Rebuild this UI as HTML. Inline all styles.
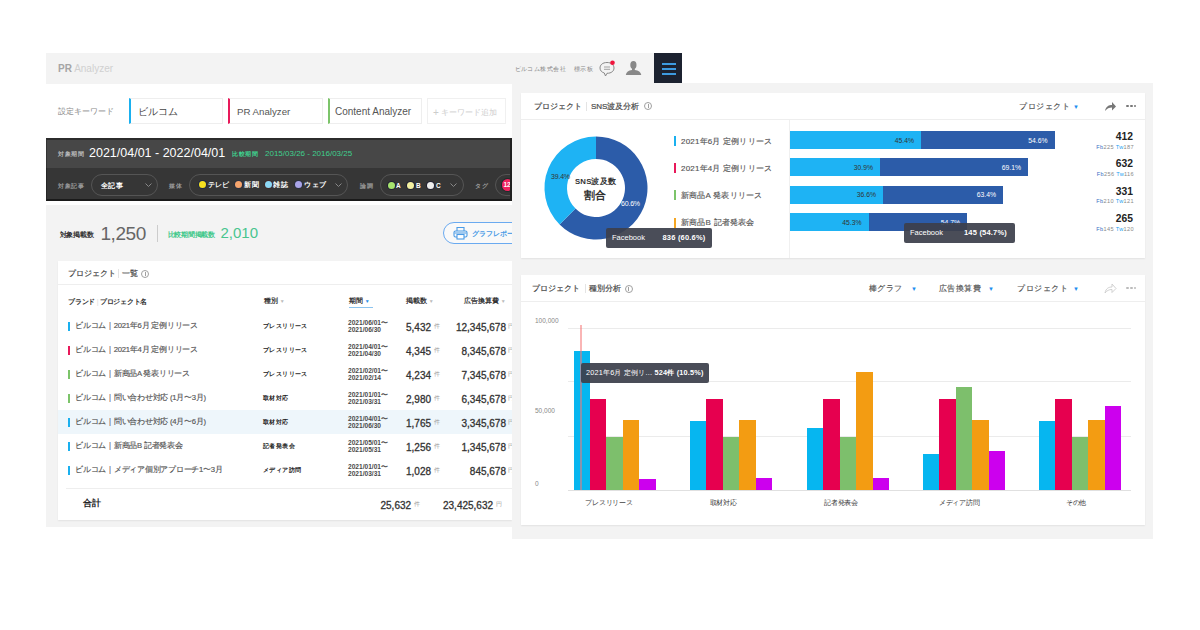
<!DOCTYPE html>
<html><head><meta charset="utf-8">
<style>
*{margin:0;padding:0;box-sizing:border-box}
html,body{width:1200px;height:630px;overflow:hidden;background:#fff;font-family:"Liberation Sans",sans-serif;color:#333}
.a{position:absolute}
.t{position:absolute;white-space:nowrap;line-height:1}
</style></head><body>
<!-- header -->
<div class="a" style="left:46px;top:53px;width:608px;height:31px;background:#f3f3f3"></div>
<div class="a" style="left:654px;top:53px;width:28px;height:30px;background:#1c2230"></div>
<div class="a" style="left:662px;top:63px;width:14px;height:2px;background:#3d9be0"></div>
<div class="a" style="left:662px;top:68px;width:14px;height:2px;background:#3d9be0"></div>
<div class="a" style="left:662px;top:73px;width:14px;height:2px;background:#3d9be0"></div>
<div class="t" style="left:58px;top:64px;font-size:10px;color:#d0d0d0"><b style="color:#a5a5a5">PR</b> Analyzer</div>
<div class="t" style="left:514.5px;top:66px;font-size:6px;color:#888;letter-spacing:.45px">ビルコム株式会社</div>
<div class="t" style="left:574px;top:66px;font-size:6px;color:#888;letter-spacing:.4px">標示板</div>


<svg class="a" style="left:598px;top:59px" width="20" height="19"><path d="M9 3.5 C4.5 3.5 2 6 2 9 C2 11.5 3.8 13.3 6.3 14 L7.5 17 L9 14.3 C13.5 14.3 16 12 16 9 C16 6 13.5 3.5 9 3.5Z" fill="none" stroke="#888" stroke-width="1"/><path d="M6 8 H12 M6 10.3 H12" stroke="#999" stroke-width=".9"/><circle cx="14.5" cy="3.8" r="2.3" fill="#f0143c"/></svg>
<svg class="a" style="left:624px;top:59px" width="18" height="18"><ellipse cx="9.4" cy="6" rx="3.1" ry="3.9" fill="#888"/><path d="M8 9 H10.8 V11 C14.5 11.6 16.8 13 17.3 16 H1.8 C2.3 13 4.5 11.6 8 11Z" fill="#888"/></svg>
<!-- left white section -->
<div class="a" style="left:46px;top:84px;width:466px;height:54px;background:#fff"></div>
<!-- dark bar -->
<div class="a" style="left:46px;top:138px;width:466px;height:30px;background:#474747;border-top:2px solid #2c2c2c;border-left:1px solid #333"></div>
<div class="a" style="left:46px;top:168px;width:466px;height:33px;background:#363636;border-bottom:2px solid #1a1a1a;border-left:1px solid #262626"></div>
<!-- left gray -->
<div class="a" style="left:46px;top:205px;width:466px;height:322px;background:#f3f3f3"></div>

<!-- keyword row -->
<div class="t" style="left:58px;top:108px;font-size:7.5px;color:#888;letter-spacing:0">設定キーワード</div>
<div class="a" style="left:129px;top:98px;width:94px;height:26px;border:1px solid #eee;border-left:2px solid #1ab0ef"></div>
<div class="t" style="left:138px;top:107px;font-size:10px;color:#444">ビルコム</div>
<div class="a" style="left:228px;top:98px;width:95px;height:26px;border:1px solid #eee;border-left:2px solid #e8195a"></div>
<div class="t" style="left:237px;top:107px;font-size:9.7px;color:#555">PR Analyzer</div>
<div class="a" style="left:328px;top:98px;width:94px;height:26px;border:1px solid #eee;border-left:2px solid #7cc46a"></div>
<div class="t" style="left:335px;top:107px;font-size:10px;color:#555">Content Analyzer</div>
<div class="a" style="left:427px;top:98px;width:79px;height:26px;border:1px solid #f0f0f0"></div>
<div class="t" style="left:433px;top:107.5px;font-size:8px;color:#ccc"><span style="font-size:10px;vertical-align:-1px">+</span> キーワード追加</div>

<!-- dark bar content -->
<div class="t" style="left:58px;top:150.5px;font-size:6px;color:#bbb;font-weight:bold;letter-spacing:.5px">対象期間</div>
<div class="t" style="left:89px;top:147px;font-size:12.5px;color:#fff">2021/04/01 - 2022/04/01</div>
<div class="t" style="left:232px;top:150.5px;font-size:6px;color:#3fcf8e;font-weight:bold;letter-spacing:.5px">比較期間</div>
<div class="t" style="left:265px;top:149.7px;font-size:8px;color:#3fcf8e">2015/03/26 - 2016/03/25</div>

<div class="t" style="left:58px;top:182.5px;font-size:6px;color:#999;font-weight:bold;letter-spacing:.5px">対象記事</div>
<div class="a" style="left:91px;top:174px;width:67px;height:22px;border:1px solid #555;border-radius:11px"></div>
<div class="t" style="left:101px;top:181.5px;font-size:7px;color:#fff;font-weight:bold;letter-spacing:.3px">全記事</div>
<div class="t" style="left:169px;top:182.5px;font-size:6px;color:#999;font-weight:bold;letter-spacing:.5px">媒体</div>
<div class="a" style="left:189px;top:174px;width:159px;height:22px;border:1px solid #555;border-radius:11px"></div>
<div class="t" style="left:360px;top:182.5px;font-size:6px;color:#999;font-weight:bold;letter-spacing:.5px">論調</div>
<div class="a" style="left:380px;top:174px;width:84px;height:22px;border:1px solid #555;border-radius:11px"></div>
<div class="t" style="left:475px;top:182.5px;font-size:6px;color:#999;font-weight:bold;letter-spacing:.5px">タグ</div>
<div class="a" style="left:495px;top:174px;width:40px;height:22px;border:1px solid #555;border-radius:11px"></div>


<!-- pill contents -->
<svg class="a" style="left:144px;top:181px" width="9" height="8"><path d="M1.5 2.5 L4.5 5.5 L7.5 2.5" fill="none" stroke="#888" stroke-width="1"/></svg>
<div class="a" style="left:199px;top:181px;width:7px;height:7px;border-radius:50%;background:#f5e020;box-shadow:0 0 0 1px #1e2a44"></div>
<div class="t" style="left:208px;top:182px;font-size:6.5px;color:#fff;font-weight:bold;letter-spacing:.2px">テレビ</div>
<div class="a" style="left:235px;top:181px;width:7px;height:7px;border-radius:50%;background:#f5a46c;box-shadow:0 0 0 1px #2a3040"></div>
<div class="t" style="left:244px;top:182px;font-size:6.5px;color:#fff;font-weight:bold;letter-spacing:.8px">新聞</div>
<div class="a" style="left:265px;top:181px;width:7px;height:7px;border-radius:50%;background:#8cd8f5;box-shadow:0 0 0 1px #402a2a"></div>
<div class="t" style="left:273px;top:182px;font-size:6.5px;color:#fff;font-weight:bold;letter-spacing:.8px">雑誌</div>
<div class="a" style="left:295px;top:181px;width:7px;height:7px;border-radius:50%;background:#a9a4e8;box-shadow:0 0 0 1px #2a3040"></div>
<div class="t" style="left:304px;top:182px;font-size:6.5px;color:#fff;font-weight:bold;letter-spacing:.6px">ウェブ</div>
<svg class="a" style="left:334px;top:181px" width="9" height="8"><path d="M1.5 2.5 L4.5 5.5 L7.5 2.5" fill="none" stroke="#888" stroke-width="1"/></svg>
<div class="a" style="left:388px;top:181.5px;width:7px;height:7px;border-radius:50%;background:#a6e36e;box-shadow:0 0 0 1px #223"></div>
<div class="t" style="left:396px;top:182.5px;font-size:6.5px;color:#fff;font-weight:bold">A</div>
<div class="a" style="left:407px;top:181.5px;width:7px;height:7px;border-radius:50%;background:#f3f0a0;box-shadow:0 0 0 1px #223"></div>
<div class="t" style="left:416px;top:182.5px;font-size:6.5px;color:#fff;font-weight:bold">B</div>
<div class="a" style="left:426.5px;top:181.5px;width:7px;height:7px;border-radius:50%;background:#eee;box-shadow:0 0 0 1px #223"></div>
<div class="t" style="left:436px;top:182.5px;font-size:6.5px;color:#fff;font-weight:bold">C</div>
<svg class="a" style="left:449px;top:181px" width="9" height="8"><path d="M1.5 2.5 L4.5 5.5 L7.5 2.5" fill="none" stroke="#888" stroke-width="1"/></svg>
<div class="a" style="left:501.5px;top:179.2px;width:11.5px;height:11.5px;border-radius:50%;background:#f0245e;box-shadow:0 0 0 1px #1d2b2b"></div>
<div class="t" style="left:503.5px;top:182px;font-size:6.5px;color:#fff;font-weight:bold">12</div>
<div class="a" style="left:510px;top:138px;width:2px;height:63px;background:#202020"></div>
<!-- cover right overflow -->

<!-- stats -->
<div class="t" style="left:59.5px;top:230.8px;font-size:7px;color:#333;font-weight:bold;letter-spacing:-.2px">対象掲載数</div>
<div class="t" style="left:100.5px;top:223.9px;font-size:19px;color:#666;letter-spacing:-.45px">1,250</div>
<div class="a" style="left:156.5px;top:225px;width:1px;height:17px;background:#ccc"></div>
<div class="t" style="left:167.8px;top:230.8px;font-size:7px;color:#3fc88a;font-weight:bold;letter-spacing:-.3px">比較期間掲載数</div>
<div class="t" style="left:220.5px;top:225.2px;font-size:15px;color:#48c58e;letter-spacing:0">2,010</div>
<div class="a" style="left:443px;top:222px;width:90px;height:22px;border:1.2px solid #6aaaf0;border-radius:11px;background:#f9f9f9"></div>
<svg class="a" style="left:453px;top:226px" width="15" height="14"><path d="M4 5 V1.5 H11 V5" fill="none" stroke="#4a9be6" stroke-width="1.1"/><rect x="1" y="5" width="13" height="6" rx="1.5" fill="none" stroke="#4a9be6" stroke-width="1.1"/><rect x="4" y="8.5" width="7" height="4.5" fill="#fff" stroke="#4a9be6" stroke-width="1.1"/><path d="M1.5 7 H13.5" stroke="#4a9be6" stroke-width="1"/></svg>
<div class="t" style="left:472px;top:230px;font-size:7px;color:#4a9be6;font-weight:bold;letter-spacing:-.1px">グラフレポート</div>

<!-- table card -->
<div class="a" style="left:58px;top:261px;width:454px;height:259px;background:#fff;box-shadow:0 1px 1.5px rgba(0,0,0,.07)"></div>
<div class="a" style="left:58px;top:284px;width:454px;height:1px;background:#eee"></div>

<div class="t" style="left:68px;top:269.7px;font-size:8px;color:#4a4a4a;font-weight:normal;-webkit-text-stroke:.2px #4a4a4a">プロジェクト</div><div class="a" style="left:117.5px;top:269.2px;width:1px;height:9px;background:#e4e4e4"></div><div class="t" style="left:121.5px;top:269.7px;font-size:8px;color:#4a4a4a;font-weight:normal;-webkit-text-stroke:.2px #4a4a4a">一覧</div><div class="a" style="left:141px;top:269.7px;width:8px;height:8px;border-radius:50%;border:1.4px solid #a0a0a0"></div><div class="a" style="left:144.5px;top:271.8px;width:1.1px;height:4px;background:#a0a0a0"></div>

<div class="t" style="left:68px;top:298px;font-size:7px;color:#333;font-weight:bold;letter-spacing:-.25px">ブランド<span style="color:#ddd;font-weight:normal"> | </span>プロジェクト名</div>
<div class="t" style="left:264px;top:298px;font-size:6.5px;color:#333;font-weight:bold">種別 <span style="color:#bbb;font-size:5px">▼</span></div>
<div class="t" style="left:349px;top:298px;font-size:6.5px;color:#333;font-weight:bold">期間 <span style="color:#2a8ee8;font-size:5px">▼</span></div>
<div class="a" style="left:349px;top:307px;width:24px;height:1px;background:#8cc4ef"></div>
<div class="t" style="left:406px;top:298px;font-size:6.5px;color:#333;font-weight:bold">掲載数 <span style="color:#bbb;font-size:5px">▼</span></div>
<div class="t" style="left:464px;top:298px;font-size:6.5px;color:#333;font-weight:bold">広告換算費 <span style="color:#bbb;font-size:5px">▼</span></div>
<div class="a" style="left:58px;top:409.5px;width:454px;height:24px;background:#eef6fb"></div>
<div class="a" style="left:68px;top:322px;width:2px;height:9px;background:#1ab0ef"></div>
<div class="t" style="left:75px;top:322px;font-size:7.7px;color:#555;letter-spacing:-.25px;-webkit-text-stroke:.15px #555">ビルコム｜2021年6月 定例リリース</div>
<div class="t" style="left:263px;top:323px;font-size:6.2px;color:#222;font-weight:bold;letter-spacing:.4px">プレスリリース</div>
<div class="t" style="left:348px;top:320px;font-size:6.6px;color:#4a4a4a;font-weight:bold;line-height:6.9px">2021/06/01〜<br>2021/06/30</div>
<div class="t" style="left:406px;top:322.6px;font-size:10px;color:#333;-webkit-text-stroke:.3px #333">5,432</div>
<div class="t" style="left:434px;top:323px;font-size:6px;color:#999">件</div>
<div class="t" style="left:400px;width:106px;text-align:right;top:322.6px;font-size:10px;color:#333;-webkit-text-stroke:.3px #333">12,345,678</div>
<div class="t" style="left:508px;top:323px;font-size:6px;color:#999">円</div>
<div class="a" style="left:68px;top:346px;width:2px;height:9px;background:#e8195a"></div>
<div class="t" style="left:75px;top:346px;font-size:7.7px;color:#555;letter-spacing:-.25px;-webkit-text-stroke:.15px #555">ビルコム｜2021年4月 定例リリース</div>
<div class="t" style="left:263px;top:347px;font-size:6.2px;color:#222;font-weight:bold;letter-spacing:.4px">プレスリリース</div>
<div class="t" style="left:348px;top:344px;font-size:6.6px;color:#4a4a4a;font-weight:bold;line-height:6.9px">2021/04/01〜<br>2021/04/30</div>
<div class="t" style="left:406px;top:346.6px;font-size:10px;color:#333;-webkit-text-stroke:.3px #333">4,345</div>
<div class="t" style="left:434px;top:347px;font-size:6px;color:#999">件</div>
<div class="t" style="left:400px;width:106px;text-align:right;top:346.6px;font-size:10px;color:#333;-webkit-text-stroke:.3px #333">8,345,678</div>
<div class="t" style="left:508px;top:347px;font-size:6px;color:#999">円</div>
<div class="a" style="left:68px;top:370px;width:2px;height:9px;background:#7cc46a"></div>
<div class="t" style="left:75px;top:370px;font-size:7.7px;color:#555;letter-spacing:-.25px;-webkit-text-stroke:.15px #555">ビルコム｜新商品A 発表リリース</div>
<div class="t" style="left:263px;top:371px;font-size:6.2px;color:#222;font-weight:bold;letter-spacing:.4px">プレスリリース</div>
<div class="t" style="left:348px;top:368px;font-size:6.6px;color:#4a4a4a;font-weight:bold;line-height:6.9px">2021/02/01〜<br>2021/02/14</div>
<div class="t" style="left:406px;top:370.6px;font-size:10px;color:#333;-webkit-text-stroke:.3px #333">4,234</div>
<div class="t" style="left:434px;top:371px;font-size:6px;color:#999">件</div>
<div class="t" style="left:400px;width:106px;text-align:right;top:370.6px;font-size:10px;color:#333;-webkit-text-stroke:.3px #333">7,345,678</div>
<div class="t" style="left:508px;top:371px;font-size:6px;color:#999">円</div>
<div class="a" style="left:68px;top:394px;width:2px;height:9px;background:#7cc46a"></div>
<div class="t" style="left:75px;top:394px;font-size:7.7px;color:#555;letter-spacing:-.25px;-webkit-text-stroke:.15px #555">ビルコム｜問い合わせ対応 (1月〜3月)</div>
<div class="t" style="left:263px;top:395px;font-size:6.2px;color:#222;font-weight:bold;letter-spacing:.4px">取材対応</div>
<div class="t" style="left:348px;top:392px;font-size:6.6px;color:#4a4a4a;font-weight:bold;line-height:6.9px">2021/01/01〜<br>2021/03/31</div>
<div class="t" style="left:406px;top:394.6px;font-size:10px;color:#333;-webkit-text-stroke:.3px #333">2,980</div>
<div class="t" style="left:434px;top:395px;font-size:6px;color:#999">件</div>
<div class="t" style="left:400px;width:106px;text-align:right;top:394.6px;font-size:10px;color:#333;-webkit-text-stroke:.3px #333">6,345,678</div>
<div class="t" style="left:508px;top:395px;font-size:6px;color:#999">円</div>
<div class="a" style="left:68px;top:418px;width:2px;height:9px;background:#1ab0ef"></div>
<div class="t" style="left:75px;top:418px;font-size:7.7px;color:#555;letter-spacing:-.25px;-webkit-text-stroke:.15px #555">ビルコム｜問い合わせ対応 (4月〜6月)</div>
<div class="t" style="left:263px;top:419px;font-size:6.2px;color:#222;font-weight:bold;letter-spacing:.4px">取材対応</div>
<div class="t" style="left:348px;top:416px;font-size:6.6px;color:#4a4a4a;font-weight:bold;line-height:6.9px">2021/04/01〜<br>2021/06/30</div>
<div class="t" style="left:406px;top:418.6px;font-size:10px;color:#333;-webkit-text-stroke:.3px #333">1,765</div>
<div class="t" style="left:434px;top:419px;font-size:6px;color:#999">件</div>
<div class="t" style="left:400px;width:106px;text-align:right;top:418.6px;font-size:10px;color:#333;-webkit-text-stroke:.3px #333">3,345,678</div>
<div class="t" style="left:508px;top:419px;font-size:6px;color:#999">円</div>
<div class="a" style="left:68px;top:442px;width:2px;height:9px;background:#1ab0ef"></div>
<div class="t" style="left:75px;top:442px;font-size:7.7px;color:#555;letter-spacing:-.25px;-webkit-text-stroke:.15px #555">ビルコム｜新商品B 記者発表会</div>
<div class="t" style="left:263px;top:443px;font-size:6.2px;color:#222;font-weight:bold;letter-spacing:.4px">記者発表会</div>
<div class="t" style="left:348px;top:440px;font-size:6.6px;color:#4a4a4a;font-weight:bold;line-height:6.9px">2021/05/01〜<br>2021/05/31</div>
<div class="t" style="left:406px;top:442.6px;font-size:10px;color:#333;-webkit-text-stroke:.3px #333">1,256</div>
<div class="t" style="left:434px;top:443px;font-size:6px;color:#999">件</div>
<div class="t" style="left:400px;width:106px;text-align:right;top:442.6px;font-size:10px;color:#333;-webkit-text-stroke:.3px #333">1,345,678</div>
<div class="t" style="left:508px;top:443px;font-size:6px;color:#999">円</div>
<div class="a" style="left:68px;top:466px;width:2px;height:9px;background:#1ab0ef"></div>
<div class="t" style="left:75px;top:466px;font-size:7.7px;color:#555;letter-spacing:-.25px;-webkit-text-stroke:.15px #555">ビルコム｜メディア個別アプローチ1〜3月</div>
<div class="t" style="left:263px;top:467px;font-size:6.2px;color:#222;font-weight:bold;letter-spacing:.4px">メディア訪問</div>
<div class="t" style="left:348px;top:464px;font-size:6.6px;color:#4a4a4a;font-weight:bold;line-height:6.9px">2021/01/01〜<br>2021/03/31</div>
<div class="t" style="left:406px;top:466.6px;font-size:10px;color:#333;-webkit-text-stroke:.3px #333">1,028</div>
<div class="t" style="left:434px;top:467px;font-size:6px;color:#999">件</div>
<div class="t" style="left:400px;width:106px;text-align:right;top:466.6px;font-size:10px;color:#333;-webkit-text-stroke:.3px #333">845,678</div>
<div class="t" style="left:508px;top:467px;font-size:6px;color:#999">円</div>
<div class="a" style="left:66px;top:488px;width:446px;height:1px;background:#eee"></div>
<div class="t" style="left:83px;top:499px;font-size:9px;color:#222;font-weight:bold">合計</div>
<div class="t" style="left:380.5px;top:501.0px;font-size:10px;color:#333;-webkit-text-stroke:.3px #333">25,632</div>
<div class="t" style="left:413.5px;top:501px;font-size:6px;color:#999">件</div>
<div class="t" style="left:443px;top:501.0px;font-size:10px;color:#333;-webkit-text-stroke:.3px #333">23,425,632</div>
<div class="t" style="left:495.5px;top:501px;font-size:6px;color:#999">円</div>

<!-- right container -->
<div class="a" style="left:512px;top:83px;width:641px;height:456px;background:#f3f3f3"></div>
<!-- right cards -->
<div class="a" style="left:521px;top:93px;width:624px;height:165px;background:#fff;box-shadow:0 1px 1.5px rgba(0,0,0,.07)"></div>
<div class="a" style="left:521px;top:119px;width:624px;height:1px;background:#eee"></div>
<div class="a" style="left:521px;top:275px;width:624px;height:250px;background:#fff;box-shadow:0 1px 1.5px rgba(0,0,0,.07)"></div>
<div class="a" style="left:521px;top:301px;width:624px;height:1px;background:#eee"></div>

<!-- card1 content -->
<div class="t" style="left:534px;top:102.8px;font-size:8px;color:#4a4a4a;font-weight:normal;-webkit-text-stroke:.2px #4a4a4a">プロジェクト</div><div class="a" style="left:586px;top:101.5px;width:1px;height:9px;background:#e4e4e4"></div><div class="t" style="left:591px;top:102.8px;font-size:8px;color:#4a4a4a;font-weight:normal;-webkit-text-stroke:.2px #4a4a4a">SNS波及分析</div><div class="a" style="left:644px;top:102.0px;width:8px;height:8px;border-radius:50%;border:1.4px solid #a0a0a0"></div><div class="a" style="left:647.5px;top:104.1px;width:1.1px;height:4px;background:#a0a0a0"></div>

<div class="t" style="left:1019px;top:103px;font-size:7.6px;color:#555;letter-spacing:.5px;-webkit-text-stroke:.15px #555">プロジェクト</div>
<div class="t" style="left:1073px;top:104px;font-size:6px;color:#1a8ef0">▼</div>
<svg class="a" style="left:1103.5px;top:100.5px" width="13" height="11"><path d="M1 10 C2 5 5 4 8 4 L8 1 L12 5.5 L8 9.5 L8 6.5 C5 6.5 3 7.5 1 10Z" fill="#777"/></svg>
<div class="a" style="left:1126.4px;top:104.7px;width:2.6px;height:2.5px;background:#777;border-radius:50%"></div>
<div class="a" style="left:1130.1px;top:104.7px;width:2.6px;height:2.5px;background:#777;border-radius:50%"></div>
<div class="a" style="left:1133.9px;top:104.7px;width:2.6px;height:2.5px;background:#777;border-radius:50%"></div>
<svg class="a" style="left:0;top:0" width="1200" height="630"><path d="M596.00 136.50 A51.5 51.5 0 1 1 559.58 224.42 L575.49 208.51 A29 29 0 1 0 596.00 159.00 Z" fill="#2c5ca9"/><path d="M559.58 224.42 A51.5 51.5 0 0 1 596.00 136.50 L596.00 159.00 A29 29 0 0 0 575.49 208.51 Z" fill="#1eb3f4"/></svg>
<div class="t" style="left:551px;top:172.5px;font-size:7px;color:#333;letter-spacing:-.2px">39.4%</div>
<div class="t" style="left:621px;top:200px;font-size:7px;color:#fff;letter-spacing:-.2px">60.6%</div>
<div class="t" style="left:575px;top:177.5px;font-size:7.8px;color:#333;font-weight:bold;letter-spacing:.15px">SNS波及数</div>
<div class="t" style="left:584px;top:190px;font-size:11px;color:#333;font-weight:bold">割合</div>
<div class="a" style="left:789px;top:120px;width:1px;height:138px;background:#f0f0f0"></div>
<div class="a" style="left:674px;top:136.0px;width:2px;height:10px;background:#1ab0ef"></div>
<div class="t" style="left:681px;top:137.8px;font-size:8px;color:#555;letter-spacing:.2px;-webkit-text-stroke:.15px #555">2021年6月 定例リリース</div>
<div class="a" style="left:790px;top:131px;width:131.0px;height:18px;background:#1eb3f4"></div>
<div class="a" style="left:921px;top:131px;width:133.5px;height:18px;background:#2c5ca9"></div>
<div class="t" style="left:860.0px;width:54px;text-align:right;top:137.8px;font-size:6.8px;color:#333">45.4%</div>
<div class="t" style="left:993.5px;width:54px;text-align:right;top:137.8px;font-size:6.8px;color:#fff">54.6%</div>
<div class="t" style="left:1079px;width:54px;text-align:right;top:132.3px;font-size:10.3px;color:#222;font-weight:bold">412</div>
<div class="t" style="left:1080px;width:54px;text-align:right;top:144.5px;font-size:5.6px;color:#888;letter-spacing:.35px"><span style="color:#3b6fc4">Fb</span>225 <span style="color:#1da1f2">Tw</span>187</div>
<div class="a" style="left:674px;top:163.2px;width:2px;height:10px;background:#e8195a"></div>
<div class="t" style="left:681px;top:165.0px;font-size:8px;color:#555;letter-spacing:.2px;-webkit-text-stroke:.15px #555">2021年4月 定例リリース</div>
<div class="a" style="left:790px;top:158px;width:90.0px;height:18px;background:#1eb3f4"></div>
<div class="a" style="left:880px;top:158px;width:148.0px;height:18px;background:#2c5ca9"></div>
<div class="t" style="left:819.0px;width:54px;text-align:right;top:164.8px;font-size:6.8px;color:#333">30.9%</div>
<div class="t" style="left:967.0px;width:54px;text-align:right;top:164.8px;font-size:6.8px;color:#fff">69.1%</div>
<div class="t" style="left:1079px;width:54px;text-align:right;top:159.3px;font-size:10.3px;color:#222;font-weight:bold">632</div>
<div class="t" style="left:1080px;width:54px;text-align:right;top:171.5px;font-size:5.6px;color:#888;letter-spacing:.35px"><span style="color:#3b6fc4">Fb</span>256 <span style="color:#1da1f2">Tw</span>116</div>
<div class="a" style="left:674px;top:190.4px;width:2px;height:10px;background:#7cc46a"></div>
<div class="t" style="left:681px;top:192.2px;font-size:8px;color:#555;letter-spacing:.2px;-webkit-text-stroke:.15px #555">新商品A 発表リリース</div>
<div class="a" style="left:790px;top:185.5px;width:93.0px;height:18px;background:#1eb3f4"></div>
<div class="a" style="left:883px;top:185.5px;width:120.0px;height:18px;background:#2c5ca9"></div>
<div class="t" style="left:822.0px;width:54px;text-align:right;top:192.3px;font-size:6.8px;color:#333">36.6%</div>
<div class="t" style="left:942.0px;width:54px;text-align:right;top:192.3px;font-size:6.8px;color:#fff">63.4%</div>
<div class="t" style="left:1079px;width:54px;text-align:right;top:186.8px;font-size:10.3px;color:#222;font-weight:bold">331</div>
<div class="t" style="left:1080px;width:54px;text-align:right;top:199.0px;font-size:5.6px;color:#888;letter-spacing:.35px"><span style="color:#3b6fc4">Fb</span>210 <span style="color:#1da1f2">Tw</span>121</div>
<div class="a" style="left:674px;top:217.6px;width:2px;height:10px;background:#f5a623"></div>
<div class="t" style="left:681px;top:219.4px;font-size:8px;color:#555;letter-spacing:.2px;-webkit-text-stroke:.15px #555">新商品B 記者発表会</div>
<div class="a" style="left:790px;top:213px;width:78.5px;height:18px;background:#1eb3f4"></div>
<div class="a" style="left:868.5px;top:213px;width:98.5px;height:18px;background:#2c5ca9"></div>
<div class="t" style="left:807.5px;width:54px;text-align:right;top:219.8px;font-size:6.8px;color:#333">45.3%</div>
<div class="t" style="left:906.0px;width:54px;text-align:right;top:219.8px;font-size:6.8px;color:#fff">54.7%</div>
<div class="t" style="left:1079px;width:54px;text-align:right;top:214.3px;font-size:10.3px;color:#222;font-weight:bold">265</div>
<div class="t" style="left:1080px;width:54px;text-align:right;top:226.5px;font-size:5.6px;color:#888;letter-spacing:.35px"><span style="color:#3b6fc4">Fb</span>145 <span style="color:#1da1f2">Tw</span>120</div>
<div class="a" style="left:606px;top:228px;width:106px;height:20px;background:rgba(60,64,75,.93);border-radius:2px"></div>
<div class="t" style="left:612px;top:234px;font-size:7.5px;color:#fff">Facebook</div>
<div class="t" style="left:662.5px;top:234px;font-size:7.5px;color:#fff;font-weight:bold;letter-spacing:.2px">836 (60.6%)</div>
<div class="a" style="left:904px;top:223px;width:111px;height:20px;background:rgba(60,64,75,.93);border-radius:2px"></div>
<div class="t" style="left:910px;top:229px;font-size:7.5px;color:#fff">Facebook</div>
<div class="t" style="left:964px;top:229px;font-size:7.5px;color:#fff;font-weight:bold;letter-spacing:.2px">145 (54.7%)</div>

<!-- card2 content -->
<div class="t" style="left:532px;top:284.7px;font-size:8px;color:#4a4a4a;font-weight:normal;-webkit-text-stroke:.2px #4a4a4a">プロジェクト</div><div class="a" style="left:585px;top:284.2px;width:1px;height:9px;background:#e4e4e4"></div><div class="t" style="left:589.3px;top:284.7px;font-size:8px;color:#4a4a4a;font-weight:normal;-webkit-text-stroke:.2px #4a4a4a">種別分析</div><div class="a" style="left:624.5px;top:284.7px;width:8px;height:8px;border-radius:50%;border:1.4px solid #a0a0a0"></div><div class="a" style="left:628.0px;top:286.8px;width:1.1px;height:4px;background:#a0a0a0"></div>

<div class="t" style="left:869px;top:285px;font-size:7.6px;color:#555;letter-spacing:.4px;-webkit-text-stroke:.15px #555">棒グラフ</div>
<div class="t" style="left:911px;top:286px;font-size:6px;color:#1a8ef0">▼</div>
<div class="t" style="left:939px;top:285px;font-size:7.6px;color:#555;letter-spacing:.4px;-webkit-text-stroke:.15px #555">広告換算費</div>
<div class="t" style="left:988px;top:286px;font-size:6px;color:#1a8ef0">▼</div>
<div class="t" style="left:1017px;top:285px;font-size:7.6px;color:#555;letter-spacing:.6px;-webkit-text-stroke:.15px #555">プロジェクト</div>
<div class="t" style="left:1073px;top:286px;font-size:6px;color:#1a8ef0">▼</div>
<svg class="a" style="left:1103.5px;top:282.5px" width="13" height="11"><path d="M1 10 C2 5 5 4 8 4 L8 1 L12 5.5 L8 9.5 L8 6.5 C5 6.5 3 7.5 1 10Z" fill="none" stroke="#ccc" stroke-width=".9"/></svg>
<div class="a" style="left:1126.4px;top:286.7px;width:2.6px;height:2.5px;background:#bbb;border-radius:50%"></div>
<div class="a" style="left:1130.1px;top:286.7px;width:2.6px;height:2.5px;background:#bbb;border-radius:50%"></div>
<div class="a" style="left:1133.9px;top:286.7px;width:2.6px;height:2.5px;background:#bbb;border-radius:50%"></div>
<div class="t" style="left:535px;top:318px;font-size:6.5px;color:#888">100,000</div>
<div class="t" style="left:535px;top:407.5px;font-size:6.5px;color:#888">50,000</div>
<div class="t" style="left:535px;top:481px;font-size:6.5px;color:#888">0</div>
<div class="a" style="left:568px;top:328px;width:563px;height:1px;background:#ebebeb"></div>
<div class="a" style="left:568px;top:381px;width:563px;height:1px;background:#ebebeb"></div>
<div class="a" style="left:568px;top:436px;width:563px;height:1px;background:#ebebeb"></div>
<div class="a" style="left:568px;top:490px;width:563px;height:1px;background:#e0e0e0"></div>
<div class="a" style="left:573.6px;top:351.4px;width:16.4px;height:138.6px;background:#06b6f0"></div>
<div class="a" style="left:590.0px;top:398.6px;width:16.4px;height:91.4px;background:#e6004f"></div>
<div class="a" style="left:606.4px;top:437px;width:16.4px;height:53.0px;background:#7dbf6c"></div>
<div class="a" style="left:622.8px;top:420px;width:16.4px;height:70.0px;background:#f39c12"></div>
<div class="a" style="left:639.2px;top:478.6px;width:16.4px;height:11.4px;background:#cc00ee"></div>
<div class="t" style="left:569px;width:80px;text-align:center;top:499px;font-size:7px;color:#333;letter-spacing:-.25px">プレスリリース</div>
<div class="a" style="left:690.0px;top:421px;width:16.4px;height:69.0px;background:#06b6f0"></div>
<div class="a" style="left:706.4px;top:398.7px;width:16.4px;height:91.3px;background:#e6004f"></div>
<div class="a" style="left:722.8px;top:437px;width:16.4px;height:53.0px;background:#7dbf6c"></div>
<div class="a" style="left:739.2px;top:420px;width:16.4px;height:70.0px;background:#f39c12"></div>
<div class="a" style="left:755.6px;top:477.8px;width:16.4px;height:12.2px;background:#cc00ee"></div>
<div class="t" style="left:683px;width:80px;text-align:center;top:499px;font-size:7px;color:#333;letter-spacing:-.25px">取材対応</div>
<div class="a" style="left:807.0px;top:427.6px;width:16.4px;height:62.4px;background:#06b6f0"></div>
<div class="a" style="left:823.4px;top:398.7px;width:16.4px;height:91.3px;background:#e6004f"></div>
<div class="a" style="left:839.8px;top:437px;width:16.4px;height:53.0px;background:#7dbf6c"></div>
<div class="a" style="left:856.2px;top:372.4px;width:16.4px;height:117.6px;background:#f39c12"></div>
<div class="a" style="left:872.6px;top:477.8px;width:16.4px;height:12.2px;background:#cc00ee"></div>
<div class="t" style="left:801px;width:80px;text-align:center;top:499px;font-size:7px;color:#333;letter-spacing:-.25px">記者発表会</div>
<div class="a" style="left:923.0px;top:454.2px;width:16.4px;height:35.8px;background:#06b6f0"></div>
<div class="a" style="left:939.4px;top:398.7px;width:16.4px;height:91.3px;background:#e6004f"></div>
<div class="a" style="left:955.8px;top:386.7px;width:16.4px;height:103.3px;background:#7dbf6c"></div>
<div class="a" style="left:972.2px;top:420px;width:16.4px;height:70.0px;background:#f39c12"></div>
<div class="a" style="left:988.6px;top:451px;width:16.4px;height:39.0px;background:#cc00ee"></div>
<div class="t" style="left:919px;width:80px;text-align:center;top:499px;font-size:7px;color:#333;letter-spacing:-.25px">メディア訪問</div>
<div class="a" style="left:1039.0px;top:421px;width:16.4px;height:69.0px;background:#06b6f0"></div>
<div class="a" style="left:1055.4px;top:398.7px;width:16.4px;height:91.3px;background:#e6004f"></div>
<div class="a" style="left:1071.8px;top:437px;width:16.4px;height:53.0px;background:#7dbf6c"></div>
<div class="a" style="left:1088.2px;top:420px;width:16.4px;height:70.0px;background:#f39c12"></div>
<div class="a" style="left:1104.6px;top:405.8px;width:16.4px;height:84.2px;background:#cc00ee"></div>
<div class="t" style="left:1036px;width:80px;text-align:center;top:499px;font-size:7px;color:#333;letter-spacing:-.25px">その他</div>
<div class="a" style="left:580.2px;top:324.5px;width:1.6px;height:165.5px;background:rgba(245,120,120,.55)"></div>
<div class="a" style="left:580.5px;top:363px;width:128px;height:20px;background:rgba(60,64,75,.93);border-radius:2px"></div>
<div class="t" style="left:586px;top:369px;font-size:7.3px;color:#fff;letter-spacing:.2px">2021年6月 定例リ... <b>524件 (10.5%)</b></div>
</body></html>
